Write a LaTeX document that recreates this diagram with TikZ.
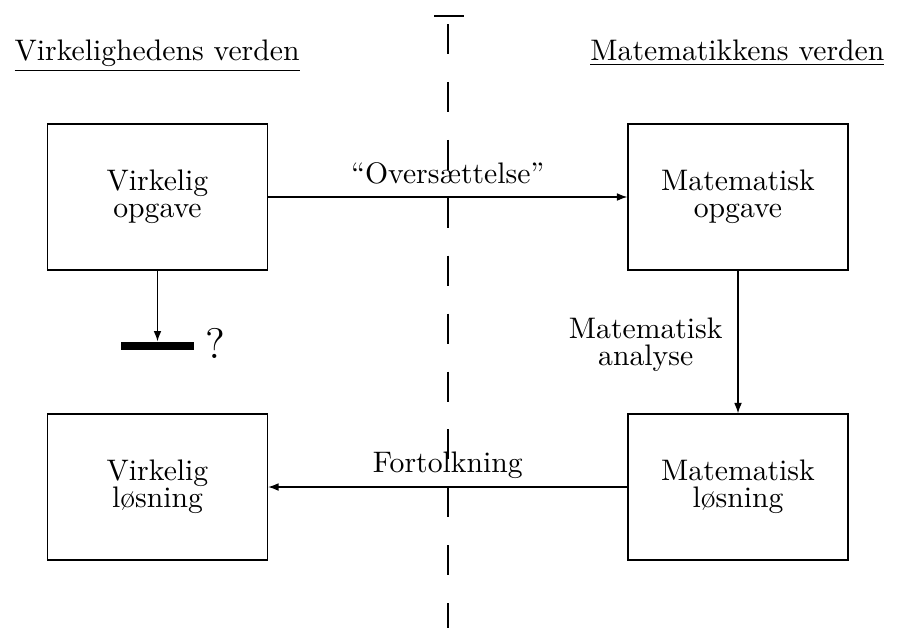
\documentclass[tikz,border=0pt]{standalone}
\usepackage{fontspec}
\usepackage{tikz}
\usetikzlibrary{arrows.meta, positioning}

\begin{document}
\begin{tikzpicture}[
  x=0.3367pt, y=-0.3367pt,
  box/.style={draw, rectangle, align=center, minimum width=74.1pt, minimum height=49.2pt, inner sep=0pt},
  lab/.style={inner sep=0pt, text depth=0pt, align=center},
  ar/.style={-{Latex[length=3.5pt, width=2.6pt]}}]
\useasboundingbox (0,0) rectangle (897,628);

% --- headings for the two worlds
\node[anchor=base west, inner sep=0pt] (realhead) at (14,60) {\underline{Virkelighedens verden}};
\node[anchor=base east, inner sep=0pt] (mathhead) at (885,60) {\underline{Matematikkens verden}};

% --- divider between them
\draw (434,16) -- (464,16);
\draw[dash pattern=on 10.1pt off 9.4pt] (448,24) -- (448,628);

% --- the four boxes
\node[box] (realtask) at (157.5,197) {Virkelig\\[-3pt]opgave};
\node[box] (mathtask) at (738,197) {Matematisk\\[-3pt]opgave};
\node[box] (mathsol) at (738,487) {Matematisk\\[-3pt]løsning};
\node[box] (realsol) at (157.5,487) {Virkelig\\[-3pt]løsning};

% --- dead end below the real task
\node[fill, minimum width=24.9pt, minimum height=2.7pt, inner sep=0pt] (stop) at (157.5,346) {};
\node[anchor=west, inner sep=0pt, font=\Large] (qmark) at (205,343) {?};

\draw[ar] (realtask.east) -- node[lab, above=4.4pt] {“Oversættelse”} (mathtask.west);
\draw[ar] (mathtask.south) -- node[lab, left=5pt] {Matematisk\\[-3pt]analyse} (mathsol.north);
\draw[ar] (mathsol.west) -- node[lab, above=4.7pt] {Fortolkning} (realsol.east);
\draw[ar] (realtask.south) -- (stop.north);
\end{tikzpicture}
\end{document}
